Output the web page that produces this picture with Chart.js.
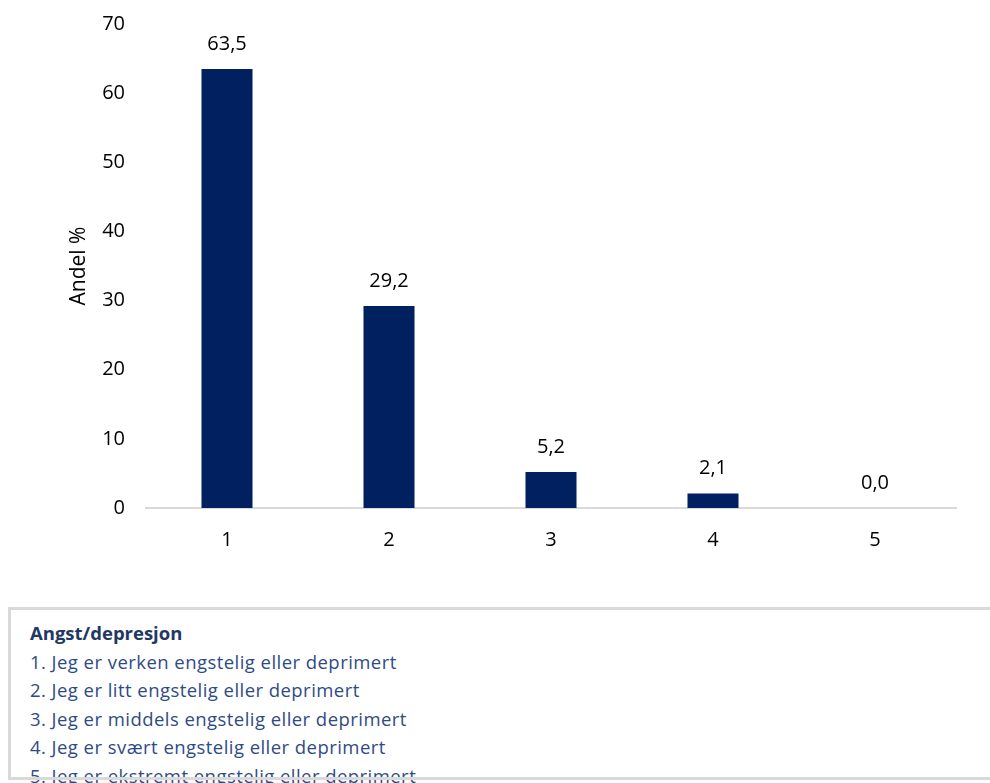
<!DOCTYPE html>
<html lang="no">
<head>
<meta charset="UTF-8">
<title>Angst/depresjon</title>
<script src="https://cdn.jsdelivr.net/npm/chart.js@4.4.0/dist/chart.umd.min.js"></script>
<style>
  body { margin: 0; background: #fff; width: 990px; height: 783px; overflow: hidden; position: relative; font-family: "Open Sans", sans-serif; }
  #chart-wrap { position: absolute; left: 0; top: 0; width: 990px; height: 590px; }
  #forklaring { position: absolute; left: 30px; top: 619px; color: #2f4b85; font-size: 18.5px; line-height: 28.5px; letter-spacing: 0.45px; white-space: nowrap; }
  #forklaring .tittel { font-weight: bold; color: #1f3864; letter-spacing: 0; }
  #ramme { position: absolute; left: 8px; top: 607px; width: 1000px; height: 167px; border: 3px solid #d9d9d9; pointer-events: none; }
</style>
</head>
<body>
<div id="chart-wrap"><canvas id="chart"></canvas></div>
<div id="forklaring"></div>
<div id="ramme"></div>

<script>
// Svaralternativ og andel (%)
const kategorier = ['1', '2', '3', '4', '5'];
const andel = [63.5, 29.2, 5.2, 2.1, 0.0];
const yTicks = [0, 10, 20, 30, 40, 50, 60, 70];
const tittel = 'Angst/depresjon';
const beskrivelser = [
  '1. Jeg er verken engstelig eller deprimert',
  '2. Jeg er litt engstelig eller deprimert',
  '3. Jeg er middels engstelig eller deprimert',
  '4. Jeg er svært engstelig eller deprimert',
  '5. Jeg er ekstremt engstelig eller deprimert'
];

// forklaringsboks under diagrammet
const boks = document.getElementById('forklaring');
const t = document.createElement('div');
t.className = 'tittel';
t.textContent = tittel;
boks.appendChild(t);
beskrivelser.forEach(s => {
  const d = document.createElement('div');
  d.textContent = s;
  boks.appendChild(d);
});

// verdier over stolpene, med komma som desimaltegn
const verdiEtiketter = {
  id: 'verdiEtiketter',
  afterDatasetsDraw(chart) {
    const ctx = chart.ctx;
    const meta = chart.getDatasetMeta(0);
    ctx.save();
    ctx.font = '20px "Open Sans"';
    ctx.fillStyle = '#000';
    ctx.textAlign = 'center';
    ctx.textBaseline = 'middle';
    meta.data.forEach((bar, i) => {
      ctx.fillText(andel[i].toFixed(1).replace('.', ','), bar.x, bar.y - 25);
    });
    ctx.restore();
  }
};

Chart.defaults.font.family = '"Open Sans", sans-serif';
Chart.defaults.color = '#000';

new Chart(document.getElementById('chart'), {
  type: 'bar',
  data: {
    labels: kategorier,
    datasets: [{
      data: andel,
      backgroundColor: '#002060',
      borderWidth: 0,
      barPercentage: 0.315,
      categoryPercentage: 1.0
    }]
  },
  options: {
    responsive: true,
    maintainAspectRatio: false,
    animation: false,
    layout: { padding: { top: 24, right: 34, left: 0, bottom: 0 } },
    plugins: { legend: { display: false }, tooltip: { enabled: false } },
    scales: {
      x: {
        grid: { display: false, drawTicks: false },
        border: { display: true, color: '#d9d9d9', width: 2 },
        ticks: { font: { size: 20 }, padding: 20, color: '#000' },
        afterFit(scale) {
          scale.height = 82;
          scale.paddingLeft = 0;
          scale.paddingRight = 0;
        }
      },
      y: {
        min: 0,
        max: 70,
        grid: { display: false, drawTicks: false },
        border: { display: false },
        afterBuildTicks(scale) { scale.ticks = yTicks.map(v => ({ value: v })); },
        ticks: { font: { size: 20 }, padding: 21, color: '#000' },
        title: { display: true, text: 'Andel %', font: { size: 21 }, color: '#000', padding: { top: 66, bottom: 0 } },
        afterFit(scale) {
          scale.width = 146;
          scale.paddingTop = 0;
          scale.paddingBottom = 0;
        }
      }
    }
  },
  plugins: [verdiEtiketter]
});
</script>
</body>
</html>
